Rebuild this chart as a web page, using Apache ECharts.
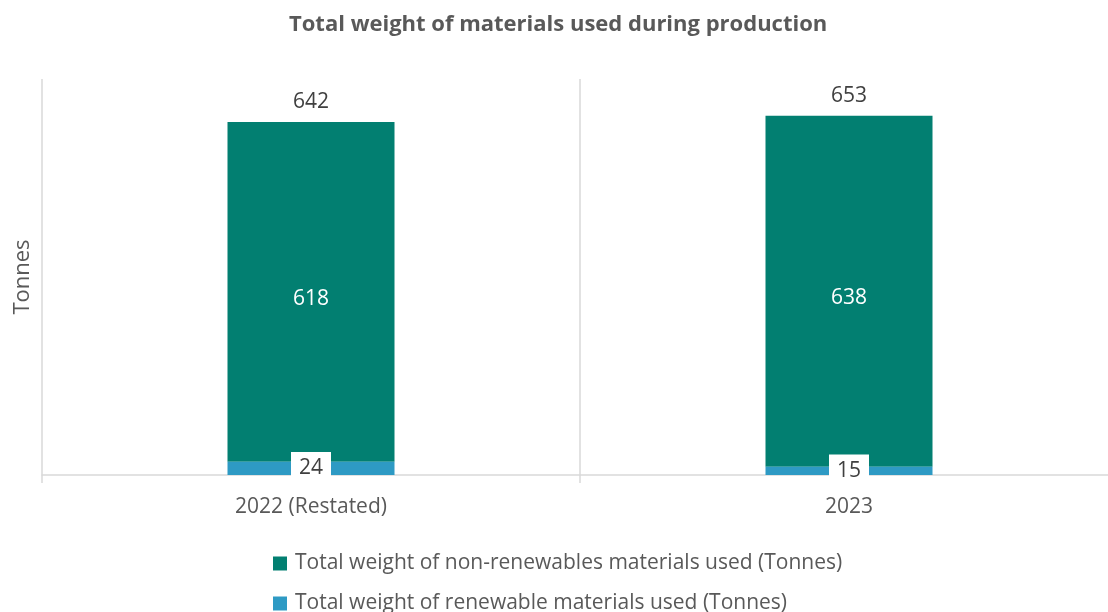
<!DOCTYPE html>
<html>
<head>
<meta charset="utf-8">
<script src="https://cdn.jsdelivr.net/npm/echarts@6/dist/echarts.min.js"></script>
<style>
  html, body { margin: 0; padding: 0; background: #ffffff; }
  #chart { width: 1108px; height: 612px; }
</style>
</head>
<body>
<div id="chart"></div>
<script>
// Production years and material weights (tonnes)
const categories = ['2022 (Restated)', '2023'];
const nonRenewable = [618, 638];
const renewable = [24, 15];
const totals = [642, 653];

const seriesNames = [
  'Total weight of non-renewables materials used (Tonnes)',
  'Total weight of renewable materials used (Tonnes)'
];

const TEXT = '#595959';
const GRID_LINE = '#d9d9d9';
const FONT = 'Open Sans';

const chart = echarts.init(document.getElementById('chart'));

chart.setOption({
  animation: false,
  textStyle: { fontFamily: FONT, color: TEXT },
  title: {
    text: 'Total weight of materials used during production',
    left: 284,
    top: 9,
    textStyle: { fontFamily: FONT, fontSize: 22, fontWeight: 'bold', color: TEXT }
  },
  legend: {
    orient: 'vertical',
    left: 273,
    top: 553,
    height: 80,
    padding: 0,
    itemWidth: 14,
    itemHeight: 14,
    itemGap: 19,
    icon: 'rect',
    data: seriesNames,
    textStyle: { fontFamily: FONT, fontSize: 21, color: TEXT, padding: [0, 0, 0, 3] }
  },
  grid: { left: 42, width: 1076, top: 79, bottom: 137, outerBoundsMode: 'none' },
  xAxis: {
    type: 'category',
    data: categories,
    axisLine: { show: true, lineStyle: { color: GRID_LINE, width: 1.5 } },
    axisTick: { show: true, length: 8, lineStyle: { color: GRID_LINE, width: 1.5 } },
    splitLine: { show: true, lineStyle: { color: GRID_LINE, width: 1.5 } },
    axisLabel: { fontFamily: FONT, fontSize: 21, color: TEXT, margin: 22 }
  },
  yAxis: {
    type: 'value',
    min: 0,
    max: 720,
    name: 'Tonnes',
    nameLocation: 'middle',
    nameGap: 8,
    nameTextStyle: { fontFamily: FONT, fontSize: 22, color: TEXT },
    axisLine: { show: false },
    axisTick: { show: false },
    axisLabel: { show: false },
    splitLine: { show: false }
  },
  series: [
    {
      name: seriesNames[1],
      type: 'bar',
      stack: 'total',
      barWidth: 167,
      data: renewable,
      itemStyle: { color: '#2e9ac4' },
      label: {
        show: true,
        position: 'inside',
        fontFamily: FONT,
        fontSize: 21,
        color: '#404040',
        backgroundColor: '#ffffff',
        padding: [6, 8]
      },
      z: 3
    },
    {
      name: seriesNames[0],
      type: 'bar',
      stack: 'total',
      barWidth: 167,
      data: nonRenewable,
      itemStyle: { color: '#027f71' },
      label: {
        show: true,
        position: 'inside',
        offset: [0, 7],
        fontFamily: FONT,
        fontSize: 21,
        color: '#ffffff'
      },
      z: 2
    },
    {
      name: 'Total',
      type: 'line',
      data: totals,
      symbol: 'circle',
      symbolSize: 1,
      itemStyle: { color: 'rgba(0,0,0,0)' },
      lineStyle: { width: 0, opacity: 0 },
      label: {
        show: true,
        position: 'top',
        distance: 9,
        fontFamily: FONT,
        fontSize: 21,
        color: '#404040'
      },
      silent: true,
      z: 4
    }
  ]
});
</script>
</body>
</html>
